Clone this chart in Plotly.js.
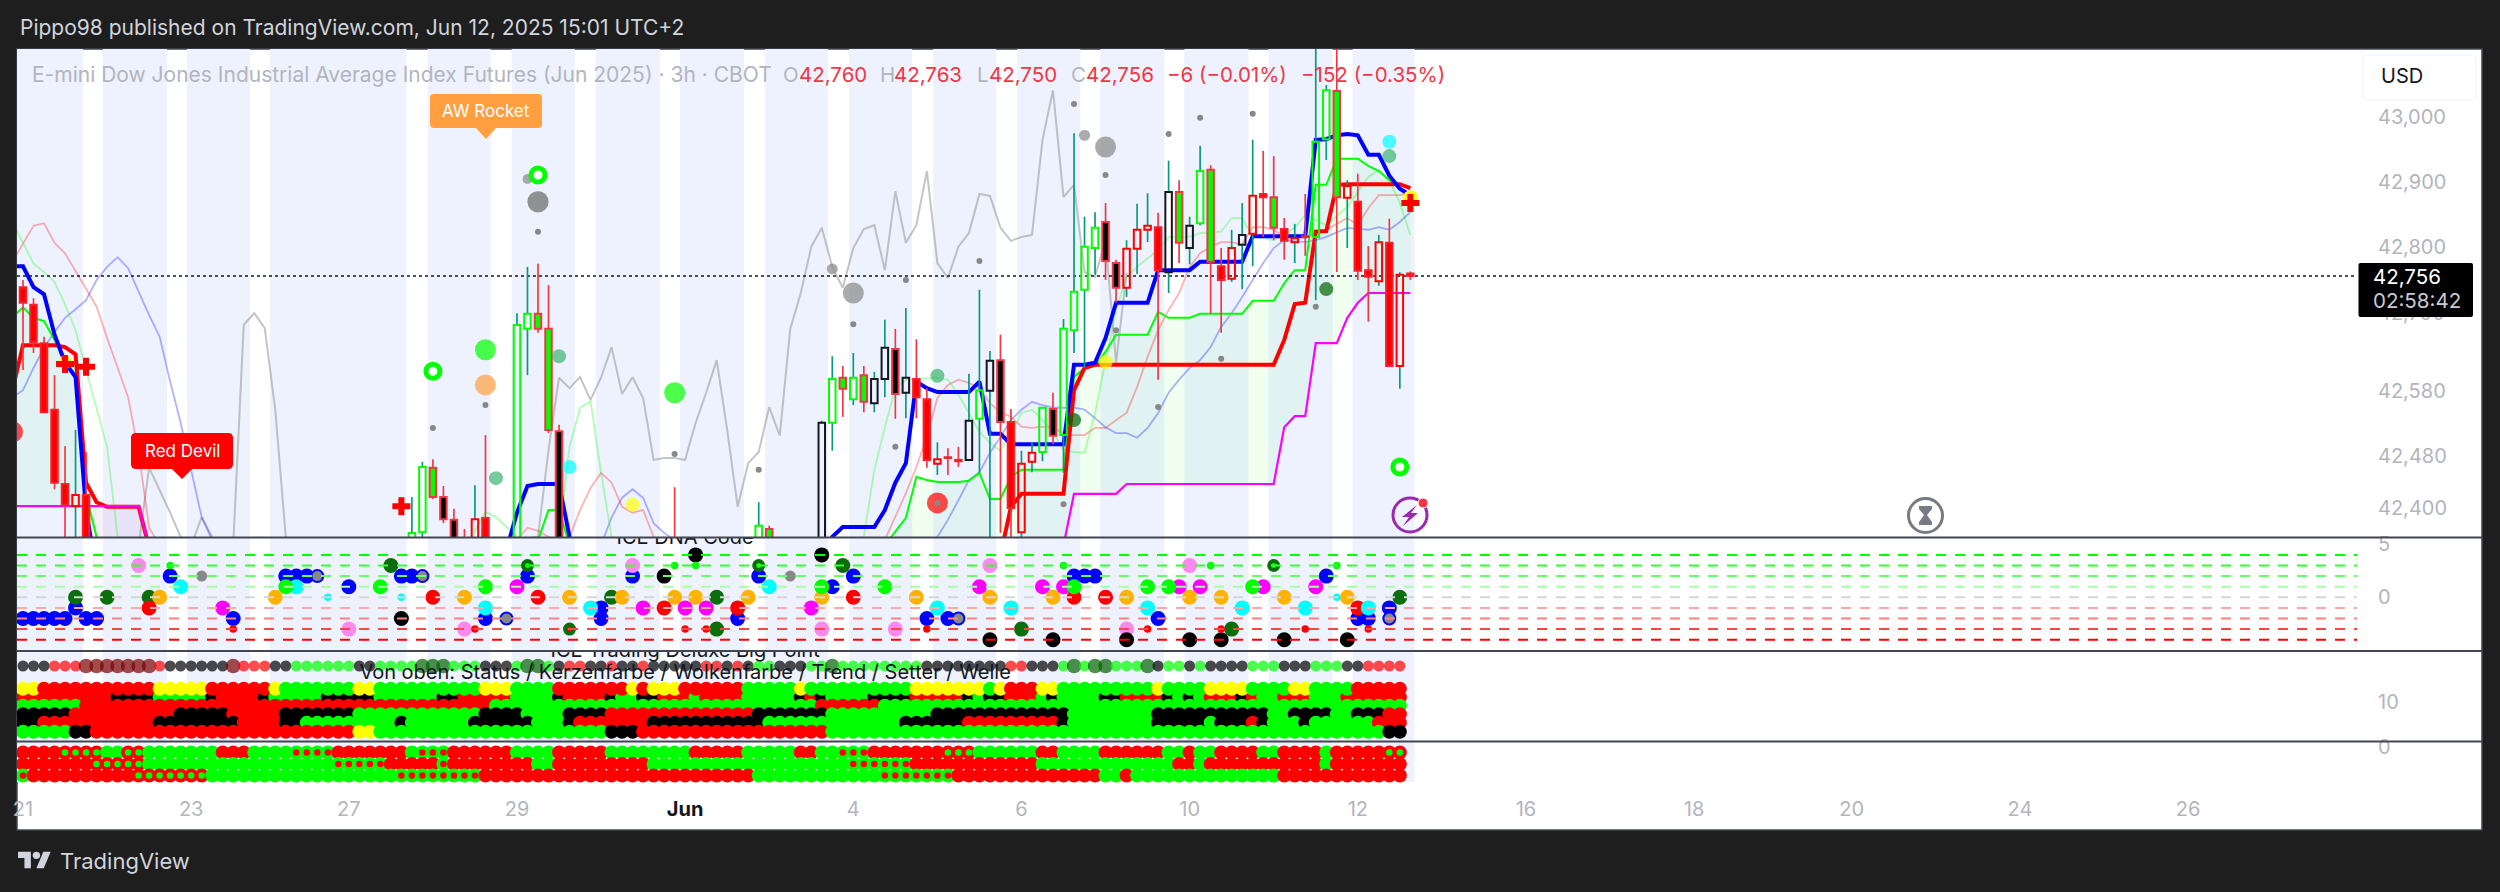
<!DOCTYPE html>
<html><head><meta charset="utf-8">
<script src="https://cdn.plot.ly/plotly-3.0.1.min.js"></script>
<style>html,body{margin:0;padding:0;background:#1e1e1e}#c{width:2500px;height:892px}</style>
</head><body><div id="c"></div>
<script>
// ---------- candles (only bars visible in the main pane) ----------
const candleBar=[0,1,2,3,4,5,6,37,38,39,40,41,42,43,44,47,48,49,50,51,62,70,71,76,77,78,79,80,81,82,83,84,85,86,87,88,89,90,91,92,93,94,95,96,97,98,99,100,101,102,103,104,105,106,107,108,109,110,111,112,113,114,115,116,117,118,119,120,121,122,123,124,125,126,127,128,129,130,131,132];
const candleStyle="rrrrrhrggFBBrhrggFFBrgF"+"kgFgFkkBkrrhrrkgkBrhhgBggggBBhhhrkFkgFrhkhrFrhrggFhrrhrhr";
const bodyTop=[42739,42712,42653,42551,42437,42420,42420,42362,42463,42462,42417,42382,42343,42383,42385,42681,42698,42698,42675,42518,42343,42373,42368,42531,42598,42600,42600,42604,42598,42646,42644,42600,42598,42567,42475,42478,42474,42534,42581,42626,42627,42532,42468,42485,42554,42552,42675,42732,42801,42830,42839,42776,42798,42827,42833,42831,42885,42885,42833,42917,42919,42771,42799,42819,42879,42882,42877,42828,42814,42817,42962,43041,43040,42894,42870,42765,42808,42807,42758,42760];
const bodyBottom=[42715,42655,42547,42439,42405,42403,42336,42336,42363,42417,42383,42336,42336,42336,42336,42336,42675,42675,42520,42336,42336,42336,42336,42336,42531,42583,42567,42563,42561,42598,42575,42577,42570,42474,42468,42477,42472,42474,42537,42580,42532,42400,42363,42471,42486,42511,42512,42673,42735,42799,42779,42738,42738,42798,42827,42765,42762,42807,42799,42837,42778,42750,42752,42804,42821,42877,42830,42810,42808,42816,42816,42966,42877,42876,42764,42755,42748,42618,42618,42756];
const wickHigh=[42750,42722,42663,42604,42495,42520,42486,42417,42471,42475,42434,42399,42368,42435,42512,42699,42770,42775,42742,42528,42432,42409,42373,42534,42633,42618,42638,42618,42609,42689,42675,42707,42659,42584,42501,42492,42494,42606,42735,42641,42666,42552,42488,42501,42555,42577,42690,42975,42847,42854,42868,42781,42811,42867,42883,42853,42933,42903,42847,42956,42926,42799,42827,42868,42965,42948,42940,42845,42836,42882,43110,43049,43110,42903,42913,42802,42819,42844,42762,42763];
const wickLow=[42612,42638,42547,42429,42343,42343,42330,42330,42348,42414,42377,42328,42328,42328,42328,42328,42604,42669,42515,42328,42328,42336,42336,42336,42488,42540,42558,42547,42547,42570,42537,42538,42538,42462,42451,42451,42463,42474,42454,42343,42362,42343,42343,42455,42472,42498,42454,42638,42615,42758,42750,42715,42724,42759,42808,42597,42730,42776,42774,42834,42698,42669,42747,42736,42771,42816,42811,42781,42776,42787,42719,42934,42762,42799,42750,42686,42741,42618,42583,42750];
const lastPrice=42756;

// ---------- overlay lines (bar index, price) ----------
const blueBar=[-1,0,1,2,3,4,5,6,7,45,46,47,48,49,51,52,53,76,77,78,81,82,83,84,85,86,87,90,91,92,93,94,99,100,101,102,103,104,107,108,111,112,116,117,122,123,124,125,126,127,128,129,130,131,132];
const bluePrice=[42771,42771,42739,42728,42666,42623,42601,42397,42300,42300,42336,42393,42434,42437,42437,42356,42300,42300,42356,42371,42371,42397,42439,42469,42594,42584,42578,42578,42594,42514,42514,42498,42498,42620,42620,42623,42661,42715,42715,42765,42765,42778,42778,42817,42817,42965,42966,42972,42974,42972,42942,42942,42910,42890,42880];
const redBar=[-1,0,3,4,5,6,7,8,11,12,13,92,93,94,95,99,100,101,102,119,120,121,122,123,124,125,126,131,132];
const redPrice=[42581,42650,42650,42647,42636,42439,42409,42402,42402,42340,42300,42300,42328,42402,42422,42422,42581,42615,42620,42620,42658,42713,42715,42824,42825,42896,42897,42897,42891];
const magentaBar=[-1,11,12,13,98,99,100,104,105,119,120,121,122,123,125,126,127,128,132];
const magentaPrice=[42403,42403,42340,42300,42300,42343,42422,42422,42437,42437,42524,42541,42541,42653,42653,42692,42715,42730,42730];
const greenBar=[-1,0,1,2,3,4,5,6,7,8,48,49,50,51,52,53,81,82,84,85,86,87,89,90,91,92,93,94,95,99,100,101,102,103,104,107,108,109,111,112,116,117,119,120,121,122,123,124,125,127,128,129,130,131,132];
const greenPrice=[42693,42708,42692,42687,42658,42630,42620,42420,42356,42300,42300,42351,42397,42397,42343,42300,42300,42343,42385,42448,42443,42440,42440,42442,42454,42414,42414,42448,42459,42459,42601,42615,42618,42640,42666,42666,42701,42692,42692,42698,42698,42718,42718,42745,42765,42765,42896,42896,42936,42936,42925,42917,42903,42891,42880];
const paleGreenBar=[-1,1,2,3,4,5,6,7,8,9,10,42,43,44,45,46,47,48,50,51,52,53,54,55,56,57,78,80,81,82,83,84,85,86,87,88,89,90,91,92,93,94,95,96,97,98,99,100,101,102,103,104,105,106,108,109,111,112,114,115,116,117,119,121,122,124,126,128,129,130,131,132];
const paleGreenPrice=[42839,42775,42762,42747,42712,42673,42612,42551,42494,42356,42300,42300,42366,42394,42386,42371,42356,42300,42300,42356,42494,42554,42564,42454,42356,42300,42300,42356,42459,42524,42584,42597,42598,42600,42600,42597,42574,42546,42517,42500,42488,42515,42546,42551,42535,42517,42489,42486,42485,42546,42627,42704,42755,42770,42796,42816,42816,42822,42824,42845,42845,42817,42811,42830,42850,42834,42862,42908,42919,42903,42868,42819];
const paleRedBar=[-1,1,2,3,4,5,6,7,8,9,10,11,12,13,14,46,47,48,49,50,51,52,53,54,55,56,57,58,59,60,61,81,82,84,85,86,87,88,89,90,91,92,93,94,95,96,97,98,99,100,101,102,103,104,105,106,107,108,109,110,111,112,113,114,115,116,117,118,119,120,122,124,126,127,128,129,131,132];
const paleRedPrice=[42778,42833,42837,42807,42791,42764,42735,42709,42661,42614,42570,42486,42370,42343,42300,42300,42351,42370,42365,42356,42330,42356,42397,42431,42454,42439,42402,42393,42397,42356,42300,42300,42351,42423,42463,42509,42569,42589,42597,42592,42584,42561,42547,42540,42525,42523,42525,42523,42515,42512,42512,42523,42523,42535,42546,42586,42632,42673,42704,42730,42770,42791,42801,42808,42808,42804,42831,42831,42827,42816,42816,42827,42845,42834,42860,42880,42880,42883];
const paleBlueBar=[-1,0,1,2,3,4,5,6,7,8,9,10,11,12,13,14,15,16,17,18,19,54,55,56,57,58,59,60,61,62,63,85,87,88,89,90,91,92,93,94,95,96,97,98,100,101,102,103,104,105,106,107,108,109,110,111,112,113,114,115,116,117,118,119,120,122,123,124,126,128,129,130,131,132];
const paleBluePrice=[42570,42581,42615,42646,42670,42692,42705,42719,42750,42770,42785,42768,42732,42696,42663,42594,42531,42459,42386,42351,42300,42300,42343,42386,42416,42429,42416,42377,42362,42351,42300,42300,42356,42382,42412,42443,42455,42485,42509,42535,42551,42563,42558,42554,42554,42551,42538,42524,42515,42515,42508,42523,42546,42577,42597,42615,42627,42647,42678,42699,42724,42750,42776,42799,42811,42808,42811,42816,42830,42827,42831,42827,42839,42854];
const greyBar=[10,11,12,13,14,15,16,17,18,19,20,21,22,23,24,25,26,49,50,51,52,53,54,55,56,57,58,59,60,61,62,63,64,65,66,67,68,69,70,71,72,73,74,75,76,77,78,79,80,81,82,83,84,85,86,87,88,89,90,91,92,93,94,95,96,97,98,99,100,101,102,103,104,105];
const greyPrice=[42300,42343,42462,42428,42393,42356,42343,42386,42356,42300,42343,42681,42699,42676,42551,42356,42300,42356,42489,42600,42584,42601,42566,42600,42647,42575,42601,42569,42474,42477,42477,42474,42531,42577,42627,42520,42402,42469,42486,42555,42511,42675,42730,42801,42830,42770,42738,42799,42828,42834,42765,42886,42807,42834,42917,42776,42753,42801,42822,42882,42879,42830,42810,42816,42819,42965,43041,42877,42896,42762,42755,42811,42623,42761];

// ---------- markers in the main pane ----------
const dotBar=[-1,4,45,51,52,58,87,100,103,124,130,130,44,44,62,49,49,48,101,103,77,79,87];
const dotPrice=[42517,42624,42446,42633,42463,42405,42603,42535,42624,42736,42962,42940,42643,42589,42577,42870,42870,42905,42972,42954,42767,42730,42408];
const dotColor=["#ff0000","#ffff00","#3cb371","#3cb371","#00ffff","#ffff00","#3cb371","#006400","#ffff00","#006400","#00ffff","#3cb371","#00ff00","#ff9f40","#00ff00","#888888","#888888","#888888","#888888","#888888","#888888","#888888","#ff0000"];
const dotSize=[21,14,14,14,14,14,14,14,14,14,14,14,21,21,21,21,21,10,11,21,11,21,21];
const tinyBar=[39,44,49,62,70,100,103,79,91,84,83,104,109,112,117,114,108,99,123,87];
const tinyPrice=[42523,42558,42824,42483,42459,43020,42911,42682,42779,42750,42494,42673,42974,42999,43005,42629,42555,42406,42709,42408];
const ringBar=[39,49,131];
const ringPrice=[42610,42911,42463];
const crossBar=[4,6,36,132];
const crossPrice=[42621,42617,42403,42868];

// ---------- ICE DNA Code pane: [bar, level] ----------
const dnaLevels=[4,3,2,1,0,-1,-2,-3,-4];
const dnaLevelColors=["#00ff00","#33ff33","#66ff66","#a6ffa6","#d6d6d6","#ffa6a6","#ff8080","#ff4444","#ff0000"];
const dnaBlue=[[0,-2],[1,-2],[2,-2],[3,-2],[4,-2],[6,-2],[7,-2],[5,-1],[14,2],[20,-2],[25,2],[26,2],[27,2],[31,1],[36,2],[37,2],[44,-2],[48,2],[55,-1],[55,-2],[58,2],[68,-2],[70,2],[77,1],[79,2],[86,-2],[88,-2],[100,2],[101,2],[102,2],[108,-2],[124,2],[127,-2],[128,-2],[130,-1]];
const dnaDarkGreen=[[5,0],[8,0],[12,0],[35,3],[56,0],[66,0],[66,-3],[78,3],[95,-3],[115,-3],[131,0]];
const dnaGold=[[13,0],[24,0],[42,0],[52,0],[57,0],[62,0],[64,0],[69,0],[76,0],[85,0],[92,0],[98,0],[105,0],[111,0],[114,0],[120,0],[126,0]];
const dnaRed=[[12,-1],[39,0],[49,0],[61,-1],[68,-1],[79,0],[100,0],[103,0],[127,-1]];
const dnaMagenta=[[19,-1],[47,1],[59,-1],[63,-1],[65,-1],[75,-1],[91,1],[97,1],[99,1],[110,1],[112,1],[118,1],[123,1]];
const dnaPink=[[11,3],[31,-3],[42,-3],[58,3],[76,-3],[83,-3],[92,3],[105,-3],[111,3]];
const dnaCyan=[[15,1],[26,1],[44,-1],[54,-1],[71,1],[87,-1],[94,-1],[107,-1],[116,-1],[122,-1],[128,-1]];
const dnaGreen=[[25,1],[34,1],[44,1],[76,1],[82,1],[100,1],[107,1],[109,1],[117,1]];
const dnaBlack=[[36,-2],[61,2],[64,4],[76,4],[92,-4],[98,-4],[105,-4],[111,-4],[114,-4],[120,-4],[126,-4]];
const dnaSmallRed=[[20,-3],[43,-3],[63,-3],[65,-3],[86,-3],[107,-3],[114,-3],[122,-3],[128,-3]];
const dnaSmallGreen=[[14,3],[62,3],[64,3],[99,3],[113,3],[125,3]];
const dnaSmallCyan=[[29,0],[36,0],[125,0]];
const dnaGrey=[[17,2],[73,2]];
const dnaBlueRing=[[28,2],[38,2],[46,-2],[89,-2],[130,-2]];
const dnaGreenRing=[[48,3],[70,3],[119,3]];
const dnaRedRing=[[52,-3]];

// ---------- ICE Trading Deluxe pane: runs of colours per row ----------
const rowStatus="K3 R3 D7 R1 K6 D1 R3 K2 G6 K2 G4 E3 G3 K3 G1 E2 G1 K1 R2 K2 R1 K2 R1 K5 R2 K1 R1 K1 G2 K3 G2 E1 G8 K8 R2 K3 G1 E1 G1 E2 G3 E1 K1 G2 K1 G1 K4 G3 K3 G3 K2 R4";
const rowA="Y2 R11 Y5 R6 Y1 G7 Y2 G10 Y3 G4 R7 Y1 R1 Y3 R6 G5 Y1 G10 Y7 G1 Y1 R3 Y2 G9 Y1 G4 Y4 G4 Y2 G4 R5";
const rowB="R9 K4 G5 K1 R4 K1 G5 K5 G6 K2 R5 G4 K1 R4 K1 G2 K2 R3 G1 R4 G5 K1 R1 K1 G4 K4 R5 K1 G1 K2 R3 G1 K1 G4 K2 R4 K1 G1 K1 G1 R3 K1 R1 G2 R3 G3 R6";
const rowC="G6 R39 G31 R6 G50";
const rowD="K5 R10 K5 R5 K7 G12 K4 G4 K4 R14 K7 G10 K13 G8 K11 G2 K4 G2 K3 R2";
const rowE="K2 R11 K8 R4 K2 G9 K1 G6 K6 G3 K1 R7 K11 G13 K6 R9 K1 G8 K5 G1 K3 R1 K1 G3 K1 G6 R3";
const rowF="G5 K2 R25 Y2 G22 K3 R18 G53 K2";
const rowP1="R4 g4 G2 g2 G7 R3 G4 r4 R7 G1 r3 R6 G4 R5 G8 R5 G5 R2 G2 r3 R7 g3 G6 R2 G4 R6 G2 R1 G2 R4 G2 R4 G1 R5 g2";
const rowP2="R7 g5 G18 r5 R5 r1 R8 G2 R9 G19 r6 R12 G13 R2 G1 R11 G1 R7";
const rowP3="r1 R10 g7 G18 r8 R26 G12 r7 R14 G2 R1 G14 R12";

// ---------- axes ----------
const priceTicks=[43000,42900,42800,42700,42580,42480,42400];
const priceLabels=["43,000","42,900","42,800","42,700","42,580","42,480","42,400"];
const dateBars=[0,16,31,47,63,79,95,111,127,143,159,174,190,206];
const dateLabels=["21","23","27","29","<b><span style='color:#131722'>Jun</span></b>","4","6","10","12","16","18","20","24","26"];
const sessionStart=[-0.57,7.61,15.6,23.5,38.5,46.5,54.5,62.5,70.6,78.6,86.6,94.6,102.5,110.5,118.5,126.5];
const sessionEnd=[5.71,13.7,21.6,36.5,44.5,52.5,60.6,68.6,76.6,84.6,92.6,100.6,108.6,116.6,124.6,132.4];

// ---------- helpers ----------
const W=2500,H=892;
const fx=p=>p/W, fy=p=>1-p/H;
const FONT='Inter, "Noto Sans", sans-serif';
const XL=-0.571, XR=222.07;
const C={K:"#000000",R:"#ff0000",G:"#00ff00",Y:"#ffff00",D:"#7a0000",E:"#006400"};
function runs(s){const o=[];s.split(" ").forEach(t=>{const n=+t.slice(1);for(let k=0;k<n;k++)o.push(t[0]);});return o;}
const base={hoverinfo:"skip",showlegend:false};
function line(x,y,color,width,yaxis,dash){return {...base,type:"scatter",mode:"lines",x,y,yaxis:yaxis||"y",line:{color,width,dash:dash||"solid"}};}
function fillPoly(xa,ya,xb,yb,color){return {...base,type:"scatter",mode:"lines",x:xa.concat(xb.slice().reverse()),y:ya.concat(yb.slice().reverse()),fill:"toself",fillcolor:color,line:{width:0}};}
function pick(x,y,test){const a=[],b=[];x.forEach((v,i)=>{if(test(v)){a.push(v);b.push(y[i]);}});return [a,b];}

const traces=[];
const CLOUD="rgba(0,255,0,0.055)";
{const [g1x,g1y]=pick(greenBar,greenPrice,v=>v>=81);
 const [m1x,m1y]=pick(magentaBar,magentaPrice,v=>v>=13);
 traces.push(fillPoly(g1x,g1y,m1x,m1y,CLOUD));
 const [g2x,g2y]=pick(greenBar,greenPrice,v=>v<=7);
 traces.push(fillPoly(g2x,g2y,[-1,7],[42403,42403],CLOUD));
 traces.push(fillPoly([6,11,12],[42403,42403,42340],[6,12],[42300,42300],"rgba(156,39,176,0.07)"));
}
traces.push(line(greyBar,greyPrice,"rgba(150,150,150,0.55)",2));
traces.push(line(paleBlueBar,paleBluePrice,"rgba(0,0,255,0.3)",1.8));
traces.push(line(paleRedBar,paleRedPrice,"rgba(255,0,0,0.3)",1.8));
traces.push(line(paleGreenBar,paleGreenPrice,"rgba(0,255,0,0.3)",1.8));
traces.push(line(greenBar,greenPrice,"#00ff00",2));
traces.push(line(redBar,redPrice,"#ff0000",4));
traces.push(line(blueBar,bluePrice,"#0000ff",4));
traces.push(line(magentaBar,magentaPrice,"#ff00ff",2.2));
traces.push(line([XL,XR],[lastPrice,lastPrice],"#131722",1.6,"y","dot"));

const bodyFill=candleBar.map((_,k)=>({r:"#ff0000",F:"#00ff00",B:"#000000",g:"rgba(0,0,0,0)",h:"rgba(0,0,0,0)",k:"rgba(0,0,0,0)"}[candleStyle[k]]));
const bodyEdge=candleBar.map((_,k)=>({r:"#f5222d",F:"#f23645",B:"#f23645",g:"#00ff00",h:"#ff0000",k:"#131722"}[candleStyle[k]]));
const wickColor=candleBar.map((_,k)=>({r:"#f23645",F:"#f23645",B:"#f23645",g:"#089981",h:"#089981",k:"#089981"}[candleStyle[k]]));
traces.push({...base,type:"bar",x:candleBar,base:bodyTop,y:wickHigh.map((v,k)=>v-bodyTop[k]),width:0.16,marker:{color:wickColor,line:{width:0}},yaxis:"y5"});
traces.push({...base,type:"bar",x:candleBar,base:wickLow,y:bodyBottom.map((v,k)=>v-wickLow[k]),width:0.16,marker:{color:wickColor,line:{width:0}},yaxis:"y5"});
traces.push({...base,type:"bar",x:candleBar,base:bodyBottom,y:bodyTop.map((v,k)=>v-bodyBottom[k]),width:0.62,marker:{color:bodyFill,line:{color:bodyEdge,width:2}},yaxis:"y5"});

traces.push({...base,type:"scatter",mode:"markers",x:dotBar,y:dotPrice,yaxis:"y5",marker:{color:dotColor,size:dotSize,line:{width:0}}});
traces.push({...base,type:"scatter",mode:"markers",x:tinyBar,y:tinyPrice,yaxis:"y5",marker:{color:"#888888",size:6,line:{width:0}}});
traces.push({...base,type:"scatter",mode:"markers",x:ringBar,y:ringPrice,yaxis:"y5",marker:{color:"#ffffff",size:14,line:{color:"#00ff00",width:5}}});
traces.push({...base,type:"scatter",mode:"markers",x:[132],y:[42877],yaxis:"y5",marker:{color:"#ffff00",size:14}});
traces.push({...base,type:"scatter",mode:"markers",x:crossBar,y:crossPrice,yaxis:"y5",marker:{symbol:"cross",color:"#ff0000",size:15,line:{width:0}}});

function dna(pairs,color,size,ln){traces.push({...base,type:"scatter",mode:"markers",x:pairs.map(p=>p[0]),y:pairs.map(p=>p[1]),yaxis:"y2",marker:{color,size,line:ln||{width:0}}});}
dna(dnaBlue,"#0000ff",15);dna(dnaDarkGreen,"#0a6e0a",15);dna(dnaGold,"#ffb300",15);dna(dnaRed,"#ff0000",15);
dna(dnaMagenta,"#ff00ff",15);dna(dnaPink,"#ff88ee",15);dna(dnaCyan,"#00ffff",15);dna(dnaGreen,"#00ff00",15);dna(dnaBlack,"#000000",15);
dna(dnaSmallRed,"#ff0000",7.5);dna(dnaSmallGreen,"#00ff00",7.5);dna(dnaSmallCyan,"#00ffff",7.5);dna(dnaGrey,"#888888",11);
dna(dnaBlueRing,"#888888",12,{color:"#0000ff",width:2});dna(dnaGreenRing,"#00ff00",9,{color:"#0a6e0a",width:4});dna(dnaRedRing,"#ff0000",9,{color:"#0a6e0a",width:4});
dnaLevels.forEach((lv,k)=>traces.push(line([XL,XR],[lv,lv],dnaLevelColors[k],2,"y2","10px,9px")));
traces.push({...base,type:"scatter",mode:"text",x:[63],y:[5.5],yaxis:"y2",text:["ICE DNA Code"],textposition:"middle center",textfont:{family:FONT,size:20,color:"#131722"}});

const rowLevel={status:18,A:12.95,B:11.06,C:9.18,D:7.29,E:5.4,F:3.4,P1:-1.22,P2:-3.78,P3:-6.33};
function row(str,lv,size){const r=runs(str);traces.push({...base,type:"scatter",mode:"markers",x:r.map((_,i)=>i),y:r.map(()=>lv),yaxis:"y3",marker:{color:r.map(c=>C[c]),size,line:{width:0}}});}
row(rowB,rowLevel.B,14);row(rowA,rowLevel.A,14);row(rowC,rowLevel.C,14);row(rowD,rowLevel.D,14);row(rowE,rowLevel.E,14);row(rowF,rowLevel.F,14);
{const r=runs(rowStatus);traces.push({...base,type:"scatter",mode:"markers",x:r.map((_,i)=>i),y:r.map(()=>rowLevel.status),yaxis:"y3",marker:{color:r.map(c=>C[c]),size:r.map(c=>(c==="D"||c==="E")?14.5:11),line:{width:0}}});}
function prow(str,lv){const r=runs(str);
 traces.push({...base,type:"scatter",mode:"markers",x:r.map((_,i)=>i),y:r.map(()=>lv),yaxis:"y3",marker:{color:r.map(c=>(c==="R"||c==="g")?"#ff0000":"#00ff00"),size:14,line:{width:0}}});
 const xs=[],cs=[];r.forEach((c,i)=>{if(c==="r"||c==="g"){xs.push(i);cs.push(c==="r"?"#ff0000":"#00ff00");}});
 traces.push({...base,type:"scatter",mode:"markers",x:xs,y:xs.map(()=>lv),yaxis:"y3",marker:{color:cs,size:6.5,line:{width:0}}});}
prow(rowP1,rowLevel.P1);prow(rowP2,rowLevel.P2);prow(rowP3,rowLevel.P3);
traces.push({...base,type:"scatter",mode:"text",x:[63,63],y:[21.1,16.2],yaxis:"y3",text:["ICE Trading Deluxe Big Point","Von oben: Status / Kerzenfarbe / Wolkenfarbe / Trend / Setter / Welle"],textposition:"middle center",textfont:{family:FONT,size:20,color:"#131722"}});

const shapes=[];
shapes.push({type:"rect",layer:"below",xref:"paper",yref:"paper",x0:fx(17),x1:fx(2482),y0:fy(830),y1:fy(49),fillcolor:"#ffffff",line:{color:"#434651",width:1.5}});
sessionStart.forEach((s,k)=>shapes.push({type:"rect",layer:"below",xref:"x",yref:"paper",x0:s,x1:sessionEnd[k],y0:fy(782),y1:fy(49),fillcolor:"#eef2ff",line:{width:0}}));
[537.5,651,741.5].forEach(p=>shapes.push({type:"line",layer:"above",xref:"paper",yref:"paper",x0:fx(17),x1:fx(2482),y0:fy(p),y1:fy(p),line:{color:"#434651",width:2}}));
function pathOf(pts,close){return pts.map((p,i)=>(i?"L":"M")+fx(p[0]).toFixed(6)+","+fy(p[1]).toFixed(6)).join(" ")+(close?" Z":"");}
function poly(pts,color){shapes.push({type:"path",layer:"above",xref:"paper",yref:"paper",path:pathOf(pts,true),fillcolor:color,line:{width:0}});}
function rr(x0,y0,x1,y1,r,tipx,tipy,tipw){const P=(x,y)=>fx(x).toFixed(6)+","+fy(y).toFixed(6);
 return "M"+P(x0+r,y0)+" L"+P(x1-r,y0)+" Q"+P(x1,y0)+" "+P(x1,y0+r)+" L"+P(x1,y1-r)+" Q"+P(x1,y1)+" "+P(x1-r,y1)+
 (tipx?(" L"+P(tipx+tipw,y1)+" L"+P(tipx,tipy)+" L"+P(tipx-tipw,y1)):"")+" L"+P(x0+r,y1)+" Q"+P(x0,y1)+" "+P(x0,y1-r)+" L"+P(x0,y0+r)+" Q"+P(x0,y0)+" "+P(x0+r,y0)+" Z";}
shapes.push({type:"path",layer:"above",xref:"paper",yref:"paper",path:rr(430,94,542,128,4,486,139,10),fillcolor:"#ff9f40",line:{width:0}});
shapes.push({type:"path",layer:"above",xref:"paper",yref:"paper",path:rr(131,433,233,469,5,182,479,10),fillcolor:"#ff0000",line:{width:0}});
shapes.push({type:"path",layer:"above",xref:"paper",yref:"paper",path:rr(2363,55,2476,100,5),fillcolor:"#ffffff",line:{color:"#f0f3fa",width:1}});
shapes.push({type:"path",layer:"above",xref:"paper",yref:"paper",path:rr(2358.5,263,2473,317,2),fillcolor:"#000000",line:{width:0}});
function circ(cx,cy,r,fill,stroke,w){shapes.push({type:"circle",layer:"above",xref:"paper",yref:"paper",x0:fx(cx-r),x1:fx(cx+r),y0:fy(cy+r),y1:fy(cy-r),fillcolor:fill,line:{color:stroke||"rgba(0,0,0,0)",width:w||0}});}
circ(1410,515,17,"rgba(255,255,255,0)","#9c27b0",3);
poly([[1417,505],[1402,517],[1409,517],[1403,526],[1418,513],[1411,513]],"#9c27b0");
circ(1423,503,5,"#f23645","#ffffff",1);
circ(1925.5,515.5,17,"#ffffff","#787b86",3);
poly([[1919,506],[1932,506],[1932,509],[1927,515],[1932,522],[1932,525],[1919,525],[1919,522],[1924,515],[1919,509]],"#787b86");
const lg=(X,Y)=>[18+0.92*X,848+0.92*Y];
poly([[14,22],[7,22],[7,11],[0,11],[0,4],[14,4]].map(p=>lg(p[0],p[1])),"#d1d4dc");
poly([[28,22],[20,22],[27.5,4],[35.5,4]].map(p=>lg(p[0],p[1])),"#d1d4dc");
circ(lg(20,8)[0],lg(20,8)[1],3.7,"#d1d4dc");

function note(text,x,y,size,color,anchor){return {text,xref:"paper",yref:"paper",x:fx(x),y:fy(y),xanchor:anchor||"left",yanchor:"middle",showarrow:false,font:{family:FONT,size,color}};}
const GR="#b2b5be",RD="#f23645";
const annotations=[
 note("Pippo98 published on TradingView.com, Jun 12, 2025 15:01 UTC+2",18,28,21,"#d1d4dc"),
 note("E-mini Dow Jones Industrial Average Index Futures (Jun 2025) · 3h · CBOT",30,75,21,GR),
 note("O",781,75,20.5,GR),note("42,760",797,75,20.5,RD),
 note("H",878,75,20.5,GR),note("42,763",892,75,20.5,RD),
 note("L",975,75,20.5,GR),note("42,750",987,75,20.5,RD),
 note("C",1069,75,20.5,GR),note("42,756",1084,75,20.5,RD),
 note("−6 (−0.01%)",1165,75,20.5,RD),
 note("−152 (−0.35%)",1299,75,20.5,RD),
 note("AW Rocket",486,111,17,"#ffffff","center"),
 note("Red Devil",182,451,17,"#ffffff","center"),
 note("USD",2379,76,20,"#131722"),
 note("42,756",2371,276,20.5,"#ffffff"),
 note("02:58:42",2371,301,20.5,"#c8cad2"),
 note("TradingView",58,861,22,"#d1d4dc")
];

const yTick={family:FONT,size:20,color:GR};
const layout={
 width:W,height:H,margin:{l:0,r:0,t:0,b:0,pad:0},autosize:false,
 paper_bgcolor:"#1e1e1e",plot_bgcolor:"rgba(0,0,0,0)",showlegend:false,barmode:"overlay",hovermode:false,
 xaxis:{domain:[fx(17),fx(2357)],range:[XL,XR],anchor:"y3",showgrid:false,zeroline:false,showline:false,tickmode:"array",tickvals:dateBars,ticktext:dateLabels,ticks:"outside",ticklen:3,tickcolor:"rgba(0,0,0,0)",tickangle:0,tickfont:{family:FONT,size:20,color:GR}},
 yaxis:{domain:[fy(537),fy(49)],range:[42355.7,43104.3],side:"right",anchor:"x",showgrid:false,zeroline:false,showline:false,tickmode:"array",tickvals:priceTicks,ticktext:priceLabels,ticks:"outside",ticklen:16,tickcolor:"rgba(0,0,0,0)",tickfont:yTick},
 yaxis5:{overlaying:"y",range:[42355.7,43104.3],side:"right",anchor:"x",visible:false},
 yaxis2:{domain:[fy(651),fy(538)],range:[-5.066,5.594],side:"right",anchor:"x",showgrid:false,zeroline:false,showline:false,tickmode:"array",tickvals:[5,0],ticktext:["5","0"],ticks:"outside",ticklen:16,tickcolor:"rgba(0,0,0,0)",tickfont:yTick},
 yaxis3:{domain:[fy(788),fy(651)],range:[-9.111,21.333],side:"right",anchor:"x",showgrid:false,zeroline:false,showline:false,tickmode:"array",tickvals:[10,0],ticktext:["10","0"],ticks:"outside",ticklen:16,tickcolor:"rgba(0,0,0,0)",tickfont:yTick},
 shapes,annotations
};
Plotly.newPlot("c",traces,layout,{displayModeBar:false,staticPlot:true});
</script></body></html>
